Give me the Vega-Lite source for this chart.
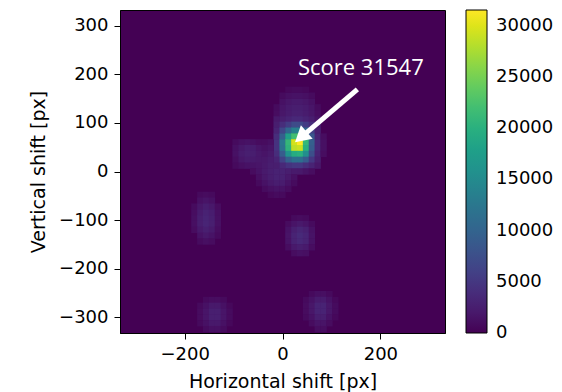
{
  "$schema": "https://vega.github.io/schema/vega-lite/v6.json",
  "width": 325,
  "height": 323,
  "autosize": "none",
  "padding": {"left": 120, "top": 10, "right": 117, "bottom": 59},
  "background": "white",
  "config": {
    "font": "DejaVu Sans",
    "view": {"fill": "#440154", "stroke": "black", "strokeWidth": 1},
    "axis": {
      "grid": false,
      "domainColor": "black",
      "tickColor": "black",
      "tickSize": 6,
      "labelFont": "DejaVu Sans",
      "labelFontSize": 18,
      "labelColor": "black",
      "titleFont": "DejaVu Sans",
      "titleFontSize": 19,
      "titleFontWeight": "normal",
      "titleColor": "black"
    }
  },
  "datasets": {
    "cells": [
      {"x": -12, "y": 108, "v": 2000}, {"x": 0, "y": 108, "v": 2500}, {"x": 12, "y": 108, "v": 3000}, {"x": 24, "y": 108, "v": 3500}, {"x": 36, "y": 108, "v": 3500}, {"x": 48, "y": 108, "v": 3000}, {"x": 60, "y": 108, "v": 2500}, {"x": 72, "y": 108, "v": 1500},
      {"x": -12, "y": 96, "v": 2500}, {"x": 0, "y": 96, "v": 4000}, {"x": 12, "y": 96, "v": 5500}, {"x": 24, "y": 96, "v": 7000}, {"x": 36, "y": 96, "v": 7000}, {"x": 48, "y": 96, "v": 5500}, {"x": 60, "y": 96, "v": 4000}, {"x": 72, "y": 96, "v": 2000},
      {"x": -12, "y": 84, "v": 3000}, {"x": 0, "y": 84, "v": 6500}, {"x": 12, "y": 84, "v": 10500}, {"x": 24, "y": 84, "v": 13500}, {"x": 36, "y": 84, "v": 13500}, {"x": 48, "y": 84, "v": 10500}, {"x": 60, "y": 84, "v": 6000}, {"x": 72, "y": 84, "v": 2500},
      {"x": -12, "y": 72, "v": 4000}, {"x": 0, "y": 72, "v": 9500}, {"x": 12, "y": 72, "v": 18000}, {"x": 24, "y": 72, "v": 22000}, {"x": 36, "y": 72, "v": 22500}, {"x": 48, "y": 72, "v": 18000}, {"x": 60, "y": 72, "v": 8500}, {"x": 72, "y": 72, "v": 3000},
      {"x": -12, "y": 60, "v": 4500}, {"x": 0, "y": 60, "v": 12500}, {"x": 12, "y": 60, "v": 21000}, {"x": 24, "y": 60, "v": 29500}, {"x": 36, "y": 60, "v": 31547}, {"x": 48, "y": 60, "v": 21000}, {"x": 60, "y": 60, "v": 9500}, {"x": 72, "y": 60, "v": 3500},
      {"x": -12, "y": 48, "v": 4500}, {"x": 0, "y": 48, "v": 12000}, {"x": 12, "y": 48, "v": 20500}, {"x": 24, "y": 48, "v": 28500}, {"x": 36, "y": 48, "v": 29000}, {"x": 48, "y": 48, "v": 20000}, {"x": 60, "y": 48, "v": 9000}, {"x": 72, "y": 48, "v": 3500},
      {"x": -12, "y": 36, "v": 4000}, {"x": 0, "y": 36, "v": 9000}, {"x": 12, "y": 36, "v": 16000}, {"x": 24, "y": 36, "v": 19500}, {"x": 36, "y": 36, "v": 20000}, {"x": 48, "y": 36, "v": 15500}, {"x": 60, "y": 36, "v": 7500}, {"x": 72, "y": 36, "v": 3000},
      {"x": -12, "y": 24, "v": 3000}, {"x": 0, "y": 24, "v": 6000}, {"x": 12, "y": 24, "v": 9500}, {"x": 24, "y": 24, "v": 11500}, {"x": 36, "y": 24, "v": 11500}, {"x": 48, "y": 24, "v": 9000}, {"x": 60, "y": 24, "v": 5000}, {"x": 72, "y": 24, "v": 2500},
      {"x": -12, "y": 12, "v": 2500}, {"x": 0, "y": 12, "v": 3500}, {"x": 12, "y": 12, "v": 4500}, {"x": 24, "y": 12, "v": 5000}, {"x": 36, "y": 12, "v": 5000}, {"x": 48, "y": 12, "v": 4000}, {"x": 60, "y": 12, "v": 3000}, {"x": 72, "y": 12, "v": 1800},
      {"x": 84, "y": 72, "v": 1000}, {"x": 84, "y": 60, "v": 1200}, {"x": 84, "y": 48, "v": 1200}, {"x": 84, "y": 36, "v": 1000},
      {"x": -12, "y": 120, "v": 1000}, {"x": 0, "y": 120, "v": 1800}, {"x": 12, "y": 120, "v": 2300}, {"x": 24, "y": 120, "v": 2700}, {"x": 36, "y": 120, "v": 2700}, {"x": 48, "y": 120, "v": 2300}, {"x": 60, "y": 120, "v": 1800}, {"x": 72, "y": 120, "v": 1000},
      {"x": -12, "y": 132, "v": 800}, {"x": 0, "y": 132, "v": 1700}, {"x": 12, "y": 132, "v": 2200}, {"x": 24, "y": 132, "v": 2500}, {"x": 36, "y": 132, "v": 2500}, {"x": 48, "y": 132, "v": 2200}, {"x": 60, "y": 132, "v": 1700}, {"x": 72, "y": 132, "v": 800},
      {"x": 0, "y": 144, "v": 1300}, {"x": 12, "y": 144, "v": 1800}, {"x": 24, "y": 144, "v": 2100}, {"x": 36, "y": 144, "v": 2100}, {"x": 48, "y": 144, "v": 1800}, {"x": 60, "y": 144, "v": 1300},
      {"x": 0, "y": 156, "v": 800}, {"x": 12, "y": 156, "v": 1200}, {"x": 24, "y": 156, "v": 1400}, {"x": 36, "y": 156, "v": 1400}, {"x": 48, "y": 156, "v": 1200}, {"x": 60, "y": 156, "v": 800},
      {"x": 12, "y": 168, "v": 600}, {"x": 24, "y": 168, "v": 700}, {"x": 36, "y": 168, "v": 700}, {"x": 48, "y": 168, "v": 600},
      {"x": -96, "y": 60, "v": 800}, {"x": -84, "y": 60, "v": 1200}, {"x": -72, "y": 60, "v": 1400}, {"x": -60, "y": 60, "v": 1200}, {"x": -48, "y": 60, "v": 900},
      {"x": -96, "y": 48, "v": 1200}, {"x": -84, "y": 48, "v": 1900}, {"x": -72, "y": 48, "v": 2400}, {"x": -60, "y": 48, "v": 2300}, {"x": -48, "y": 48, "v": 1700},
      {"x": -96, "y": 36, "v": 1300}, {"x": -84, "y": 36, "v": 2200}, {"x": -72, "y": 36, "v": 2600}, {"x": -60, "y": 36, "v": 2500}, {"x": -48, "y": 36, "v": 1900},
      {"x": -96, "y": 24, "v": 1000}, {"x": -84, "y": 24, "v": 1800}, {"x": -72, "y": 24, "v": 2200}, {"x": -60, "y": 24, "v": 2100}, {"x": -48, "y": 24, "v": 1900},
      {"x": -96, "y": 12, "v": 700}, {"x": -84, "y": 12, "v": 1100}, {"x": -72, "y": 12, "v": 1400}, {"x": -60, "y": 12, "v": 1500}, {"x": -48, "y": 12, "v": 1700},
      {"x": -36, "y": 60, "v": 900}, {"x": -24, "y": 60, "v": 1200}, {"x": -36, "y": 48, "v": 1300}, {"x": -24, "y": 48, "v": 1700}, {"x": -36, "y": 36, "v": 1600}, {"x": -24, "y": 36, "v": 2000},
      {"x": -36, "y": 24, "v": 1900}, {"x": -24, "y": 24, "v": 2300}, {"x": -36, "y": 12, "v": 2000}, {"x": -24, "y": 12, "v": 2500},
      {"x": -60, "y": 0, "v": 900}, {"x": -48, "y": 0, "v": 1500}, {"x": -36, "y": 0, "v": 2100}, {"x": -24, "y": 0, "v": 2600}, {"x": -12, "y": 0, "v": 2900}, {"x": 0, "y": 0, "v": 2900}, {"x": 12, "y": 0, "v": 2500}, {"x": 24, "y": 0, "v": 2100}, {"x": 36, "y": 0, "v": 2000}, {"x": 48, "y": 0, "v": 1500}, {"x": 60, "y": 0, "v": 1000},
      {"x": -48, "y": -12, "v": 1100}, {"x": -36, "y": -12, "v": 1900}, {"x": -24, "y": -12, "v": 2500}, {"x": -12, "y": -12, "v": 2900}, {"x": 0, "y": -12, "v": 2800}, {"x": 12, "y": -12, "v": 2000}, {"x": 24, "y": -12, "v": 1200},
      {"x": -48, "y": -24, "v": 700}, {"x": -36, "y": -24, "v": 1400}, {"x": -24, "y": -24, "v": 2000}, {"x": -12, "y": -24, "v": 2400}, {"x": 0, "y": -24, "v": 2300}, {"x": 12, "y": -24, "v": 1500}, {"x": 24, "y": -24, "v": 800},
      {"x": -36, "y": -36, "v": 800}, {"x": -24, "y": -36, "v": 1200}, {"x": -12, "y": -36, "v": 1500}, {"x": 0, "y": -36, "v": 1400}, {"x": 12, "y": -36, "v": 900},
      {"x": -24, "y": -48, "v": 600}, {"x": -12, "y": -48, "v": 800}, {"x": 0, "y": -48, "v": 700},
      {"x": -168, "y": -48, "v": 700}, {"x": -156, "y": -48, "v": 900}, {"x": -144, "y": -48, "v": 700},
      {"x": -168, "y": -60, "v": 1200}, {"x": -156, "y": -60, "v": 1600}, {"x": -144, "y": -60, "v": 1200},
      {"x": -180, "y": -72, "v": 800}, {"x": -168, "y": -72, "v": 1800}, {"x": -156, "y": -72, "v": 2400}, {"x": -144, "y": -72, "v": 1900}, {"x": -132, "y": -72, "v": 900},
      {"x": -180, "y": -84, "v": 1000}, {"x": -168, "y": -84, "v": 2200}, {"x": -156, "y": -84, "v": 2900}, {"x": -144, "y": -84, "v": 2400}, {"x": -132, "y": -84, "v": 1100},
      {"x": -180, "y": -96, "v": 1100}, {"x": -168, "y": -96, "v": 2500}, {"x": -156, "y": -96, "v": 3100}, {"x": -144, "y": -96, "v": 2600}, {"x": -132, "y": -96, "v": 1200},
      {"x": -180, "y": -108, "v": 1100}, {"x": -168, "y": -108, "v": 2500}, {"x": -156, "y": -108, "v": 3100}, {"x": -144, "y": -108, "v": 2600}, {"x": -132, "y": -108, "v": 1200},
      {"x": -180, "y": -120, "v": 900}, {"x": -168, "y": -120, "v": 2000}, {"x": -156, "y": -120, "v": 2600}, {"x": -144, "y": -120, "v": 2100}, {"x": -132, "y": -120, "v": 1000},
      {"x": -168, "y": -132, "v": 1400}, {"x": -156, "y": -132, "v": 1900}, {"x": -144, "y": -132, "v": 1500}, {"x": -132, "y": -132, "v": 700},
      {"x": -168, "y": -144, "v": 800}, {"x": -156, "y": -144, "v": 1100}, {"x": -144, "y": -144, "v": 900},
      {"x": 24, "y": -96, "v": 700}, {"x": 36, "y": -96, "v": 900}, {"x": 48, "y": -96, "v": 700},
      {"x": 12, "y": -108, "v": 900}, {"x": 24, "y": -108, "v": 1600}, {"x": 36, "y": -108, "v": 2000}, {"x": 48, "y": -108, "v": 1600}, {"x": 60, "y": -108, "v": 800},
      {"x": 12, "y": -120, "v": 1400}, {"x": 24, "y": -120, "v": 2600}, {"x": 36, "y": -120, "v": 3200}, {"x": 48, "y": -120, "v": 2700}, {"x": 60, "y": -120, "v": 1300},
      {"x": 12, "y": -132, "v": 1600}, {"x": 24, "y": -132, "v": 3000}, {"x": 36, "y": -132, "v": 3700}, {"x": 48, "y": -132, "v": 3100}, {"x": 60, "y": -132, "v": 1500},
      {"x": 12, "y": -144, "v": 1500}, {"x": 24, "y": -144, "v": 2900}, {"x": 36, "y": -144, "v": 3500}, {"x": 48, "y": -144, "v": 3000}, {"x": 60, "y": -144, "v": 1400},
      {"x": 12, "y": -156, "v": 1000}, {"x": 24, "y": -156, "v": 2000}, {"x": 36, "y": -156, "v": 2500}, {"x": 48, "y": -156, "v": 2100}, {"x": 60, "y": -156, "v": 1000},
      {"x": 24, "y": -168, "v": 1000}, {"x": 36, "y": -168, "v": 1300}, {"x": 48, "y": -168, "v": 1100},
      {"x": -156, "y": -264, "v": 700}, {"x": -144, "y": -264, "v": 1000}, {"x": -132, "y": -264, "v": 1000}, {"x": -120, "y": -264, "v": 700},
      {"x": -168, "y": -276, "v": 700}, {"x": -156, "y": -276, "v": 1300}, {"x": -144, "y": -276, "v": 2000}, {"x": -132, "y": -276, "v": 2000}, {"x": -120, "y": -276, "v": 1300}, {"x": -108, "y": -276, "v": 600},
      {"x": -168, "y": -288, "v": 900}, {"x": -156, "y": -288, "v": 1700}, {"x": -144, "y": -288, "v": 2600}, {"x": -132, "y": -288, "v": 2600}, {"x": -120, "y": -288, "v": 1700}, {"x": -108, "y": -288, "v": 800},
      {"x": -168, "y": -300, "v": 900}, {"x": -156, "y": -300, "v": 1700}, {"x": -144, "y": -300, "v": 2600}, {"x": -132, "y": -300, "v": 2600}, {"x": -120, "y": -300, "v": 1700}, {"x": -108, "y": -300, "v": 800},
      {"x": -168, "y": -312, "v": 700}, {"x": -156, "y": -312, "v": 1300}, {"x": -144, "y": -312, "v": 2000}, {"x": -132, "y": -312, "v": 2000}, {"x": -120, "y": -312, "v": 1300}, {"x": -108, "y": -312, "v": 600},
      {"x": -156, "y": -324, "v": 800}, {"x": -144, "y": -324, "v": 1200}, {"x": -132, "y": -324, "v": 1200}, {"x": -120, "y": -324, "v": 800},
      {"x": 60, "y": -252, "v": 700}, {"x": 72, "y": -252, "v": 1100}, {"x": 84, "y": -252, "v": 1100}, {"x": 96, "y": -252, "v": 700},
      {"x": 48, "y": -264, "v": 700}, {"x": 60, "y": -264, "v": 1400}, {"x": 72, "y": -264, "v": 2200}, {"x": 84, "y": -264, "v": 2200}, {"x": 96, "y": -264, "v": 1400}, {"x": 108, "y": -264, "v": 600},
      {"x": 48, "y": -276, "v": 900}, {"x": 60, "y": -276, "v": 1800}, {"x": 72, "y": -276, "v": 3000}, {"x": 84, "y": -276, "v": 3000}, {"x": 96, "y": -276, "v": 1800}, {"x": 108, "y": -276, "v": 800},
      {"x": 48, "y": -288, "v": 900}, {"x": 60, "y": -288, "v": 1800}, {"x": 72, "y": -288, "v": 3000}, {"x": 84, "y": -288, "v": 3000}, {"x": 96, "y": -288, "v": 1800}, {"x": 108, "y": -288, "v": 800},
      {"x": 48, "y": -300, "v": 700}, {"x": 60, "y": -300, "v": 1400}, {"x": 72, "y": -300, "v": 2500}, {"x": 84, "y": -300, "v": 2500}, {"x": 96, "y": -300, "v": 1400}, {"x": 108, "y": -300, "v": 600},
      {"x": 60, "y": -312, "v": 900}, {"x": 72, "y": -312, "v": 1600}, {"x": 84, "y": -312, "v": 1600}, {"x": 96, "y": -312, "v": 900},
      {"x": 72, "y": -324, "v": 1000}, {"x": 84, "y": -324, "v": 1000}
    ],
    "note": [{"x": 160, "y": 198, "label": "Score 31547"}],
    "shaft": [{"x": 153, "y": 169, "x2": 48, "y2": 79}],
    "head": [{"x": 37.6, "y": 70.7}]
  },
  "layer": [
    {
      "data": {"name": "cells"},
      "mark": {"type": "rect", "width": 6.3, "height": 6.3},
      "encoding": {
        "x": {
          "field": "x", "type": "quantitative",
          "scale": {"domain": [-332, 332], "nice": false, "zero": false},
          "axis": {"values": [-200, 0, 200], "title": "Horizontal shift [px]", "labelPadding": 6, "titlePadding": 9}
        },
        "y": {
          "field": "y", "type": "quantitative",
          "scale": {"domain": [-332, 332], "nice": false, "zero": false},
          "axis": {"values": [-300, -200, -100, 0, 100, 200, 300], "title": "Vertical shift [px]", "labelPadding": 6, "titlePadding": 10}
        },
        "color": {
          "field": "v", "type": "quantitative",
          "scale": {"scheme": "viridis", "domain": [0, 31547]},
          "legend": {
            "title": null,
            "orient": "right",
            "offset": 21,
            "direction": "vertical",
            "format": "d",
            "gradientLength": 323,
            "gradientThickness": 21,
            "gradientStrokeColor": "black",
            "gradientStrokeWidth": 1,
            "values": [0, 5000, 10000, 15000, 20000, 25000, 30000],
            "labelFont": "DejaVu Sans",
            "labelFontSize": 18,
            "labelColor": "black",
            "labelOffset": 9,
            "labelBaseline": "middle",
            "labelOverlap": false,
            "padding": 0,
            "encode": {"labels": {"update": {"baseline": {"value": "middle"}}}}
          }
        }
      }
    },
    {
      "data": {"name": "shaft"},
      "mark": {"type": "rule", "color": "white", "strokeWidth": 5, "strokeCap": "butt"},
      "encoding": {
        "x": {"field": "x", "type": "quantitative"},
        "y": {"field": "y", "type": "quantitative"},
        "x2": {"field": "x2"},
        "y2": {"field": "y2"}
      }
    },
    {
      "data": {"name": "head"},
      "mark": {"type": "point", "shape": "triangle-up", "size": 324, "angle": 229, "filled": true, "color": "white", "opacity": 1},
      "encoding": {
        "x": {"field": "x", "type": "quantitative"},
        "y": {"field": "y", "type": "quantitative"}
      }
    },
    {
      "data": {"name": "note"},
      "mark": {"type": "text", "color": "white", "font": "Open Sans", "fontSize": 22, "align": "center", "baseline": "alphabetic"},
      "encoding": {
        "x": {"field": "x", "type": "quantitative"},
        "y": {"field": "y", "type": "quantitative"},
        "text": {"field": "label"}
      }
    }
  ]
}
